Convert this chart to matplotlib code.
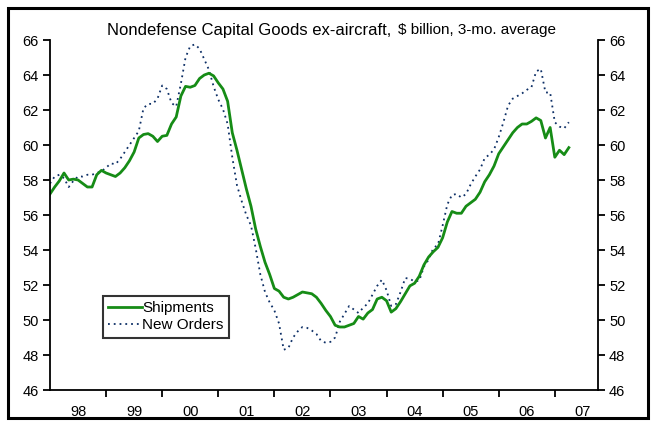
import numpy as np
import matplotlib
matplotlib.use("Agg")
import matplotlib.pyplot as plt
from matplotlib.patches import Rectangle

plt.rcParams['font.family'] = ['Liberation Sans', 'DejaVu Sans']

# monthly data, Jan 1998 onward ($ billion, 3-mo. average)
start_year = 1998
shipments = [
    57.2, 57.6, 57.95, 58.4, 58.0, 58.05, 58.0, 57.8, 57.6, 57.6, 58.3, 58.55,
    58.4, 58.3, 58.2, 58.4, 58.7, 59.1, 59.6, 60.4, 60.6, 60.65, 60.5, 60.2,
    60.5, 60.55, 61.2, 61.6, 62.8, 63.35, 63.3, 63.4, 63.8, 64.0, 64.1, 63.95,
    63.55, 63.2, 62.5, 60.7, 59.7, 58.6, 57.5, 56.5, 55.2, 54.2, 53.3, 52.6,
    51.8, 51.65, 51.3, 51.2, 51.3, 51.45, 51.6, 51.55, 51.5, 51.3, 50.95, 50.55,
    50.2, 49.7, 49.6, 49.6, 49.7, 49.8, 50.2, 50.05, 50.4, 50.6, 51.2, 51.3,
    51.1, 50.45, 50.65, 51.05, 51.5, 51.95, 52.1, 52.5, 53.15, 53.6, 53.9, 54.15,
    54.7, 55.6, 56.2, 56.1, 56.1, 56.5, 56.7, 56.9, 57.3, 57.9, 58.3, 58.8,
    59.5, 59.9, 60.3, 60.7, 61.0, 61.2, 61.2, 61.35, 61.55, 61.4, 60.4, 61.0,
    59.3, 59.7, 59.45, 59.85,
]
new_orders = [
    57.8, 58.2, 58.3, 58.1, 57.6, 57.95, 58.2, 58.2, 58.3, 58.3, 58.4, 58.5,
    58.7, 58.95, 58.9, 59.2, 59.6, 60.0, 60.4, 60.8, 62.1, 62.35, 62.35, 62.65,
    63.4, 63.2, 62.4, 62.2, 63.5, 65.0, 65.65, 65.75, 65.5, 64.9, 64.3, 63.35,
    62.6, 62.05, 61.2, 59.3, 57.7, 56.8, 56.0, 55.4, 54.1, 52.6, 51.6, 51.0,
    50.55, 49.8, 48.3, 48.4, 49.0, 49.35, 49.6, 49.55, 49.4, 49.2, 48.8, 48.7,
    48.75, 49.0, 49.9, 50.35, 50.8, 50.6, 50.4, 50.7, 50.95, 51.45, 51.95, 52.3,
    51.7, 50.8, 50.9, 51.6, 52.4, 52.35, 52.2, 52.25, 53.05, 53.45, 54.1, 54.3,
    55.4, 56.6, 57.15, 57.2, 57.0, 57.2, 57.75, 58.2, 58.6, 59.25, 59.45, 59.75,
    60.45, 61.3, 62.25, 62.65, 62.8, 62.95, 63.15, 63.3, 64.2, 64.35, 63.0, 63.0,
    61.3, 61.05, 60.95, 61.3,
]
year_labels = ['98', '99', '00', '01', '02', '03', '04', '05', '06', '07']
y_ticks = list(range(46, 67, 2))

t = start_year + np.arange(len(shipments)) / 12.0

W, H = 654, 428
fig = plt.figure(figsize=(W / 100, H / 100), dpi=100)
ax = fig.add_axes([50 / W, 1 - 390 / H, 548 / W, 350 / H])

ax.plot(t, new_orders, color='#0d2f66', lw=1.3, ls=(0, (1, 2.2)), label='New Orders')
ax.plot(t, shipments, color='#168c16', lw=2.0, label='Shipments')

ax.set_xlim(1998.0, 2007.77)
ax.set_ylim(46, 66)
ax.spines['top'].set_visible(False)
for s in ('left', 'right', 'bottom'):
    ax.spines[s].set_linewidth(1.3)

ax.set_yticks(y_ticks)
ax.tick_params(axis='y', which='both', direction='out', length=5, width=1.3,
               labelsize=10.5, pad=3, left=True, right=True, labelleft=True, labelright=True)

years = np.arange(1998, 2008)
ax.set_xticks(years[1:])
ax.set_xticks(years + 0.5, minor=True)
ax.set_xticklabels([])
ax.set_xticklabels(year_labels, minor=True)
ax.tick_params(axis='x', which='major', direction='out', length=5, width=1.3)
ax.tick_params(axis='x', which='minor', length=0, labelsize=10.5, pad=11)

h, l = ax.get_legend_handles_labels()
leg = fig.legend([h[1], h[0]], [l[1], l[0]], loc='upper left',
                 bbox_to_anchor=(103 / W, 1 - 296 / H), fontsize=11,
                 frameon=True, fancybox=False, handlelength=2.2, handletextpad=0.0,
                 borderpad=0.35, labelspacing=0.2, borderaxespad=0)
leg.get_frame().set_edgecolor('black')
leg.get_frame().set_linewidth(1.5)

fig.text(107 / W, 1 - 30 / H, 'Nondefense Capital Goods ex-aircraft,', fontsize=12,
         ha='left', va='center')
fig.text(398 / W, 1 - 30 / H, '$ billion, 3-mo. average', fontsize=11,
         ha='left', va='center')

fig.patches.append(Rectangle((8 / W, 1 - 418 / H), 640 / W, 410 / H,
                             transform=fig.transFigure, fill=False,
                             edgecolor='black', linewidth=2.2))

fig.savefig('out.png', dpi=100)
